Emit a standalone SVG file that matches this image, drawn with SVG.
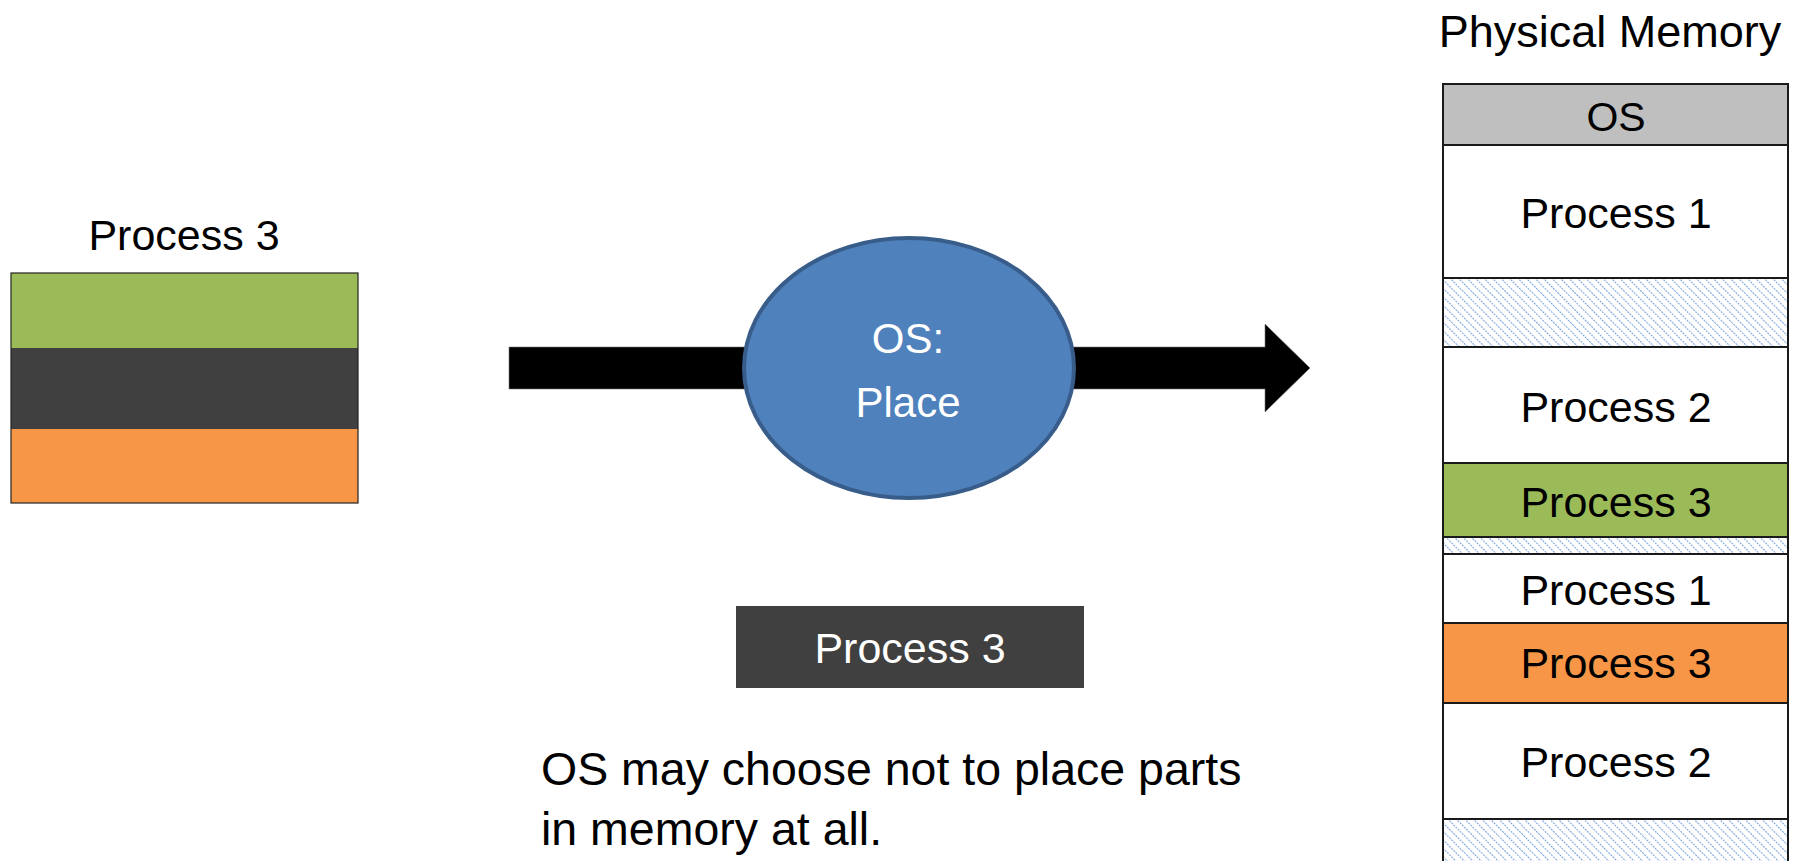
<svg xmlns="http://www.w3.org/2000/svg" width="1803" height="861" viewBox="0 0 1803 861">
  <style>
    .t { font-family: "Liberation Sans", Arial, sans-serif; fill: #000; text-anchor: middle; }
    .s { text-anchor: start; }
    .w { fill: #fff; }
    .seg { stroke: #1a1a1a; stroke-width: 2; }
  </style>
  <defs>
    <pattern id="hatch" width="6" height="6" patternUnits="userSpaceOnUse" patternTransform="rotate(-45)">
      <rect width="6" height="6" fill="#fff"/>
      <line x1="0" y1="0" x2="0" y2="6" stroke="#7ea6dc" stroke-width="2.2" stroke-dasharray="2 1"/>
    </pattern>
  </defs>
  <rect width="1803" height="861" fill="#fff"/>

  <g id="connectors">
    <path d="M509,347 L1265,347 L1265,324 L1310,368 L1265,412 L1265,389 L509,389 Z" fill="#000" stroke="#777" stroke-width="0.6"/>
  </g>

  <g id="process3-source">
    <text class="t" x="184" y="250" font-size="43">Process 3</text>
    <rect x="11" y="273" width="347" height="75" fill="#9bbb59"/>
    <rect x="11" y="348" width="347" height="81" fill="#404040"/>
    <rect x="11" y="429" width="347" height="74" fill="#f79646"/>
    <rect x="11" y="273" width="347" height="230" fill="none" stroke="#222" stroke-width="1.2"/>
  </g>

  <g id="os-place">
    <ellipse cx="909" cy="368" rx="165" ry="130" fill="#4f81bd" stroke="#385d8a" stroke-width="4"/>
    <text class="t w" x="908" y="353" font-size="42">OS:</text>
    <text class="t w" x="908" y="417" font-size="42">Place</text>
  </g>

  <g id="process3-dropped">
    <rect x="736" y="606" width="348" height="82" fill="#404040"/>
    <text class="t w" x="910" y="663" font-size="43">Process 3</text>
  </g>

  <g id="note">
    <text class="t s" x="541" y="785" font-size="46.5">OS may choose not to place parts</text>
    <text class="t s" x="541" y="845" font-size="46.5">in memory at all.</text>
  </g>

  <g id="physical-memory">
    <text class="t" x="1610" y="47" font-size="45">Physical Memory</text>
    <rect class="seg" x="1443" y="84" width="345" height="61" fill="#bfbfbf"/>
    <text class="t" x="1616" y="131" font-size="41">OS</text>
    <rect class="seg" x="1443" y="145" width="345" height="133" fill="#fff"/>
    <text class="t" x="1616" y="228" font-size="43">Process 1</text>
    <rect class="seg" x="1443" y="278" width="345" height="69" fill="url(#hatch)"/>
    <rect class="seg" x="1443" y="347" width="345" height="116" fill="#fff"/>
    <text class="t" x="1616" y="422" font-size="43">Process 2</text>
    <rect class="seg" x="1443" y="463" width="345" height="74" fill="#9bbb59"/>
    <text class="t" x="1616" y="517" font-size="43">Process 3</text>
    <rect class="seg" x="1443" y="537" width="345" height="17" fill="url(#hatch)"/>
    <rect class="seg" x="1443" y="554" width="345" height="69" fill="#fff"/>
    <text class="t" x="1616" y="605" font-size="43">Process 1</text>
    <rect class="seg" x="1443" y="623" width="345" height="80" fill="#f79646"/>
    <text class="t" x="1616" y="678" font-size="43">Process 3</text>
    <rect class="seg" x="1443" y="703" width="345" height="116" fill="#fff"/>
    <text class="t" x="1616" y="777" font-size="43">Process 2</text>
    <rect class="seg" x="1443" y="819" width="345" height="60" fill="url(#hatch)"/>
  </g>
</svg>
